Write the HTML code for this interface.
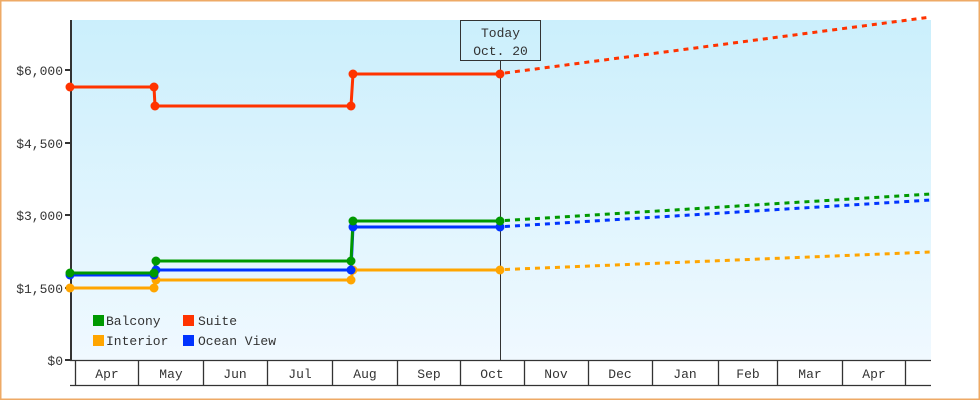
<!DOCTYPE html>
<html>
<head>
<meta charset="utf-8">
<style>
  html, body { margin: 0; padding: 0; background: #fff; }
  svg { display: block; }
  text { font-family: "Liberation Mono", "DejaVu Sans Mono", monospace; font-size: 13px; fill: #333; }
</style>
</head>
<body>
<svg width="980" height="400" viewBox="0 0 980 400" xmlns="http://www.w3.org/2000/svg">
  <defs>
    <linearGradient id="bg" x1="0" y1="0" x2="0" y2="1">
      <stop offset="0" stop-color="#cbeffc"/>
      <stop offset="1" stop-color="#f0f9ff"/>
    </linearGradient>
  </defs>
  <rect x="0" y="0" width="980" height="400" fill="#fff"/>
  <!-- border -->
  <rect x="0.75" y="0.75" width="978.5" height="398.5" fill="none" stroke="#eeaa66" stroke-width="1.5"/>

  <!-- plot bg -->
  <rect x="72" y="20" width="859" height="340" fill="url(#bg)"/>

  <!-- y axis -->
  <rect x="70" y="20" width="2" height="341" fill="#333"/>
  <g fill="#333">
    <rect x="65" y="69" width="5" height="2"/>
    <rect x="65" y="142" width="5" height="2"/>
    <rect x="65" y="214" width="5" height="2"/>
    <rect x="65" y="287" width="5" height="2"/>
    <rect x="65" y="359" width="5" height="2"/>
  </g>
  <g text-anchor="end">
    <text x="63" y="75">$6,000</text>
    <text x="63" y="148">$4,500</text>
    <text x="63" y="220">$3,000</text>
    <text x="63" y="293">$1,500</text>
    <text x="63" y="365">$0</text>
  </g>

  <!-- x axis band -->
  <g stroke="#333" stroke-width="1.3" fill="none">
    <line x1="70" y1="360.5" x2="931" y2="360.5"/>
    <line x1="70" y1="385.5" x2="931" y2="385.5"/>
    <line x1="75.5" y1="360" x2="75.5" y2="385"/>
    <line x1="138.5" y1="360" x2="138.5" y2="385"/>
    <line x1="203.5" y1="360" x2="203.5" y2="385"/>
    <line x1="267.5" y1="360" x2="267.5" y2="385"/>
    <line x1="332.5" y1="360" x2="332.5" y2="385"/>
    <line x1="397.5" y1="360" x2="397.5" y2="385"/>
    <line x1="460.5" y1="360" x2="460.5" y2="385"/>
    <line x1="524.5" y1="360" x2="524.5" y2="385"/>
    <line x1="588.5" y1="360" x2="588.5" y2="385"/>
    <line x1="652.5" y1="360" x2="652.5" y2="385"/>
    <line x1="718.5" y1="360" x2="718.5" y2="385"/>
    <line x1="777.5" y1="360" x2="777.5" y2="385"/>
    <line x1="842.5" y1="360" x2="842.5" y2="385"/>
    <line x1="905.5" y1="360" x2="905.5" y2="385"/>
  </g>
  <g text-anchor="middle" style="fill:#222">
    <text x="107" y="378">Apr</text>
    <text x="171" y="378">May</text>
    <text x="235" y="378">Jun</text>
    <text x="300" y="378">Jul</text>
    <text x="365" y="378">Aug</text>
    <text x="429" y="378">Sep</text>
    <text x="492" y="378">Oct</text>
    <text x="556" y="378">Nov</text>
    <text x="620" y="378">Dec</text>
    <text x="685" y="378">Jan</text>
    <text x="748" y="378">Feb</text>
    <text x="810" y="378">Mar</text>
    <text x="874" y="378">Apr</text>
  </g>

  <!-- today line and box -->
  <line x1="500.5" y1="60" x2="500.5" y2="360" stroke="#333" stroke-width="1"/>
  <rect x="460.5" y="20.5" width="80" height="40" fill="none" stroke="#333" stroke-width="1"/>
  <text x="500.5" y="37" text-anchor="middle">Today</text>
  <text x="500.5" y="55" text-anchor="middle">Oct. 20</text>

  <!-- projections (dashed) -->
  <g fill="none" stroke-width="3" stroke-dasharray="5 5">
    <line x1="505" y1="73" x2="931" y2="17" stroke="#ff3300"/>
    <line x1="505" y1="220.5" x2="931" y2="194" stroke="#009900"/>
    <line x1="505" y1="226.5" x2="931" y2="200" stroke="#0033ff"/>
    <line x1="505" y1="269.5" x2="931" y2="252" stroke="#ffa500"/>
  </g>

  <!-- step series -->
  <g fill="none" stroke-width="3" stroke-linejoin="round">
    <polyline stroke="#ffa500" points="70,288 154,288 156,280 351,280 353,270 500,270"/>
    <polyline stroke="#0033ff" points="70,275 154,275 156,270 351,270 353,227 500,227"/>
    <polyline stroke="#009900" points="70,273 154,273 156,261 351,261 353,221 500,221"/>
    <polyline stroke="#ff3300" points="70,87 154,87 155,106 351,106 353,74 500,74"/>
  </g>

  <!-- markers -->
  <g fill="#ffa500">
    <circle cx="70" cy="288" r="4.5"/>
    <circle cx="154" cy="288" r="4.5"/>
    <circle cx="156" cy="280" r="4.5"/>
    <circle cx="351" cy="280" r="4.5"/>
    <circle cx="353" cy="270" r="4.5"/>
    <circle cx="500" cy="270" r="4.5"/>
  </g>
  <g fill="#0033ff">
    <circle cx="70" cy="275" r="4.5"/>
    <circle cx="154" cy="275" r="4.5"/>
    <circle cx="156" cy="270" r="4.5"/>
    <circle cx="351" cy="270" r="4.5"/>
    <circle cx="353" cy="227" r="4.5"/>
    <circle cx="500" cy="227" r="4.5"/>
  </g>
  <g fill="#009900">
    <circle cx="70" cy="273" r="4.5"/>
    <circle cx="154" cy="273" r="4.5"/>
    <circle cx="156" cy="261" r="4.5"/>
    <circle cx="351" cy="261" r="4.5"/>
    <circle cx="353" cy="221" r="4.5"/>
    <circle cx="500" cy="221" r="4.5"/>
  </g>
  <g fill="#ff3300">
    <circle cx="70" cy="87" r="4.5"/>
    <circle cx="154" cy="87" r="4.5"/>
    <circle cx="155" cy="106" r="4.5"/>
    <circle cx="351" cy="106" r="4.5"/>
    <circle cx="353" cy="74" r="4.5"/>
    <circle cx="500" cy="74" r="4.5"/>
  </g>

  <!-- legend -->
  <rect x="93" y="315" width="11" height="11" fill="#009900"/>
  <text x="106" y="325">Balcony</text>
  <rect x="183" y="315" width="11" height="11" fill="#ff3300"/>
  <text x="198" y="325">Suite</text>
  <rect x="93" y="335" width="11" height="11" fill="#ffa500"/>
  <text x="106" y="345">Interior</text>
  <rect x="183" y="335" width="11" height="11" fill="#0033ff"/>
  <text x="198" y="345">Ocean View</text>
</svg>
</body>
</html>
